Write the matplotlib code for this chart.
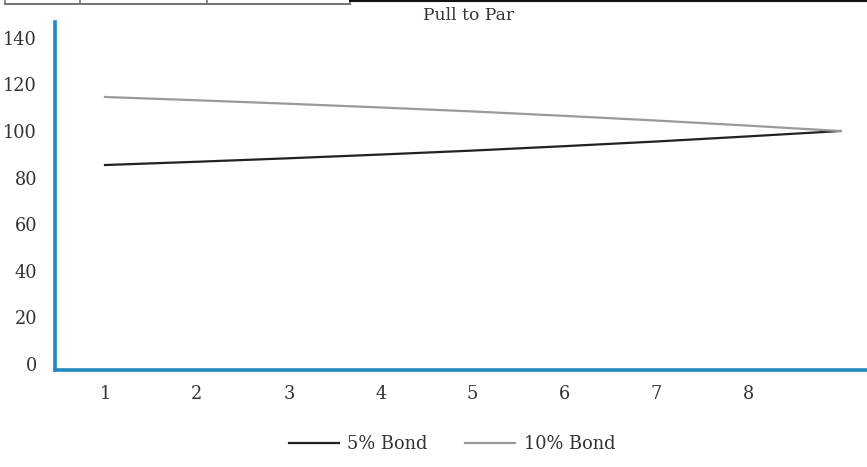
import matplotlib
matplotlib.use("Agg")
import matplotlib.pyplot as plt
from matplotlib.lines import Line2D

years = [1, 2, 3, 4, 5, 6, 7, 8, 9]
bond_5 = [85.4, 86.8, 88.3, 89.9, 91.6, 93.5, 95.5, 97.7, 100.0]
bond_10 = [114.6, 113.2, 111.7, 110.1, 108.4, 106.5, 104.5, 102.3, 100.0]
x_ticks = [1, 2, 3, 4, 5, 6, 7, 8]
y_ticks = [0, 20, 40, 60, 80, 100, 120, 140]
title = "Pull to Par"
labels = ["5% Bond", "10% Bond"]

plt.rcParams['font.family'] = ['DejaVu Serif']
W, H = 867, 467
fig = plt.figure(figsize=(W / 100, H / 100), dpi=100)
fig.patch.set_facecolor('white')
ax = fig.add_axes([55 / W, 1 - 370 / H, 1 - 55 / W, (370 - 22) / H])
ax.set_facecolor('white')

ax.plot(years, bond_5, color='#222222', lw=1.6, label=labels[0])
ax.plot(years, bond_10, color='#9a9a9a', lw=1.6, label=labels[1])

ax.set_xlim(0.456, 9.29)
ax.set_ylim(-2.6, 146.8)
ax.set_xticks(x_ticks)
ax.set_yticks(y_ticks)
ax.tick_params(axis='both', length=0, labelsize=12.8, colors='#333333')
ax.tick_params(axis='y', pad=13)
ax.tick_params(axis='x', pad=11)
for s in ['top', 'right']:
    ax.spines[s].set_visible(False)
for s in ['left', 'bottom']:
    ax.spines[s].set_color('#1f8ac0')
    ax.spines[s].set_linewidth(2.6)

fig.text(469 / W, 1 - 16 / H, title, ha='center', va='center', fontsize=12.3, color='#333333')

fig.legend(loc='center', bbox_to_anchor=(452 / W, 1 - 444 / H), ncol=2, frameon=False,
           fontsize=12.8, handlelength=2.8, columnspacing=2.1, handletextpad=0.5,
           labelcolor='#333333')

# top decorative lines (cropped table border)
fig.add_artist(Line2D([5 / W, 350 / W], [1 - 4 / H, 1 - 4 / H], color='#777777', lw=1.5, transform=fig.transFigure))
for xv in [5, 80, 207, 350]:
    fig.add_artist(Line2D([xv / W, xv / W], [1, 1 - 4 / H], color='#777777', lw=1.2, transform=fig.transFigure))
fig.add_artist(Line2D([350 / W, 1], [1 - 0.7 / H, 1 - 0.7 / H], color='#111111', lw=1.5, transform=fig.transFigure))

fig.savefig('out.png', dpi=100, facecolor='white')
